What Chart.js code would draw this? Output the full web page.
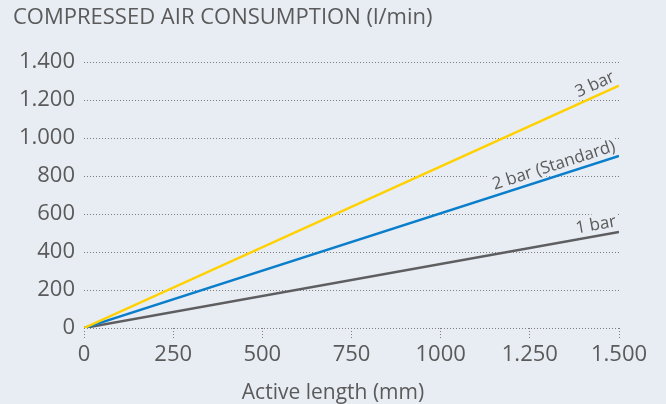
<!DOCTYPE html>
<html>
<head>
<meta charset="utf-8">
<script src="https://cdn.jsdelivr.net/npm/chart.js@4/dist/chart.umd.min.js"></script>
<style>
  html, body { margin: 0; padding: 0; background: #e8edf3; }
  #wrap { width: 666px; height: 404px; }
</style>
</head>
<body>
<div id="wrap"><canvas id="chart"></canvas></div>
<script>
// data
const lengths = [0, 1500];
const bar1 = [0, 505];
const bar2 = [0, 905];
const bar3 = [0, 1275];
const seriesNames = ['3 bar', '2 bar (Standard)', '1 bar'];
const xTickLabels = ['0', '250', '500', '750', '1000', '1.250', '1.500'];
const yTickLabels = ['0', '200', '400', '600', '800', '1.000', '1.200', '1.400'];
const xTitle = 'Active length (mm)';

const textColor = '#5a5a5a';
const gridColor = '#7d7d7d';
const bgColor = '#e8edf3';
const fontFamily = "'Open Sans', 'Noto Sans', sans-serif";

function pts(vals) {
    return lengths.map((x, i) => ({ x: x, y: vals[i] }));
}

// rotated labels at the end of each line
function labelBox(ctx, chart, i, draw) {
    const meta = chart.getDatasetMeta(i);
    const p0 = meta.data[0], p1 = meta.data[meta.data.length - 1];
    const ang = Math.atan2(p1.y - p0.y, p1.x - p0.x);
    const txt = chart.data.datasets[i].label;
    ctx.save();
    ctx.font = '17px ' + fontFamily;
    ctx.translate(p1.x, p1.y);
    ctx.rotate(ang);
    ctx.textAlign = 'right';
    ctx.textBaseline = 'alphabetic';
    const w = ctx.measureText(txt).width;
    if (draw) {
        ctx.fillStyle = textColor;
        ctx.fillText(txt, -1, -6);
    } else {
        ctx.fillStyle = bgColor;
        ctx.fillRect(-1 - w - 3, -6 - 16, w + 5, 19);
    }
    ctx.restore();
}

const lineLabels = {
    id: 'lineLabels',
    beforeDraw(chart) {
        const ctx = chart.ctx;
        ctx.save();
        ctx.fillStyle = bgColor;
        ctx.fillRect(0, 0, chart.width, chart.height);
        ctx.restore();
    },
    beforeDatasetsDraw(chart) {
        chart.data.datasets.forEach((d, i) => labelBox(chart.ctx, chart, i, false));
    },
    afterDatasetsDraw(chart) {
        chart.data.datasets.forEach((d, i) => labelBox(chart.ctx, chart, i, true));
    },
    afterDraw(chart) {
        // x axis title, centred on the whole picture
        const ctx = chart.ctx;
        ctx.save();
        ctx.font = '21px ' + fontFamily;
        ctx.fillStyle = textColor;
        ctx.textAlign = 'center';
        ctx.textBaseline = 'alphabetic';
        ctx.fillText(xTitle, chart.width / 2, chart.scales.x.bottom - 5);
        ctx.restore();
    }
};

const ctx = document.getElementById('chart').getContext('2d');
const myChart = new Chart(ctx, {
    type: 'line',
    data: {
        datasets: [
            { label: seriesNames[0], data: pts(bar3), borderColor: '#ffd100', backgroundColor: '#ffd100' },
            { label: seriesNames[1], data: pts(bar2), borderColor: '#0a7ecb', backgroundColor: '#0a7ecb' },
            { label: seriesNames[2], data: pts(bar1), borderColor: '#5e5e60', backgroundColor: '#5e5e60' }
        ]
    },
    options: {
        responsive: true,
        maintainAspectRatio: false,
        animation: false,
        layout: { padding: { left: 13, right: 47, top: 0, bottom: 0 } },
        elements: {
            line: { borderWidth: 2.5, tension: 0, borderCapStyle: 'butt' },
            point: { radius: 0 }
        },
        plugins: {
            legend: { display: false },
            tooltip: { enabled: false },
            title: {
                display: true,
                text: 'COMPRESSED AIR CONSUMPTION (l/min)',
                align: 'start',
                color: textColor,
                font: { family: fontFamily, size: 22, weight: 'normal' },
                padding: { top: 5, bottom: 30.6 }
            }
        },
        scales: {
            x: {
                type: 'linear',
                min: 0,
                max: 1500,
                afterFit: (scale) => { scale.height = 76; },
                border: { display: false },
                grid: {
                    drawOnChartArea: false,
                    drawTicks: true,
                    tickLength: 12,
                    tickColor: gridColor,
                    tickBorderDash: [1, 2],
                    tickWidth: 1
                },
                ticks: {
                    stepSize: 250,
                    autoSkip: false,
                    maxRotation: 0,
                    padding: 2,
                    color: textColor,
                    font: { family: fontFamily, size: 22 },
                    callback: (v, i) => xTickLabels[i]
                },
                title: { display: false }
            },
            y: {
                min: 0,
                max: 1400,
                afterFit: (scale) => { scale.width = 71; },
                border: { display: false, dash: [1, 2] },
                grid: {
                    color: gridColor,
                    lineWidth: 1,
                    drawTicks: false
                },
                ticks: {
                    stepSize: 200,
                    padding: 9,
                    color: textColor,
                    font: { family: fontFamily, size: 22 },
                    callback: (v, i) => yTickLabels[i]
                }
            }
        }
    },
    plugins: [lineLabels]
});
</script>
</body>
</html>
